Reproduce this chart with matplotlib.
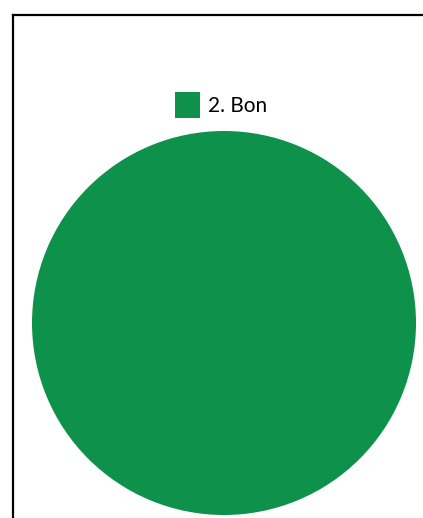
import matplotlib
matplotlib.use("Agg")
import matplotlib.pyplot as plt
from matplotlib.lines import Line2D

categories = ["2. Bon"]
values = [100]
colors = ["#0e914a"]

W, H = 423, 518
fig = plt.figure(figsize=(W / 100, H / 100), dpi=100)
fig.patch.set_facecolor("white")

# frame lines (top and left)
fig.add_artist(Line2D([12.5 / W, 1.0], [1 - 14.5 / H, 1 - 14.5 / H], color="black", lw=1.6, transform=fig.transFigure))
fig.add_artist(Line2D([12.5 / W, 12.5 / W], [0, 1 - 14.5 / H], color="black", lw=1.6, transform=fig.transFigure))

cx, cy, r = 224, 323, 192
ax = fig.add_axes([(cx - r) / W, (H - cy - r) / H, 2 * r / W, 2 * r / H])
wedges, _ = ax.pie(values, colors=colors, startangle=90, counterclock=False,
                   wedgeprops=dict(linewidth=0))
ax.set_xlim(-1, 1)
ax.set_ylim(-1, 1)
ax.set_aspect("equal")
ax.axis("off")

fig.legend(wedges, categories, loc="center", bbox_to_anchor=(221 / W, 1 - 105 / H),
           frameon=False, handlelength=1.2, handleheight=1.5,
           handletextpad=0.4, borderpad=0, prop={"family": "Lato", "size": 15})

fig.savefig("out.png", dpi=100, facecolor="white")
